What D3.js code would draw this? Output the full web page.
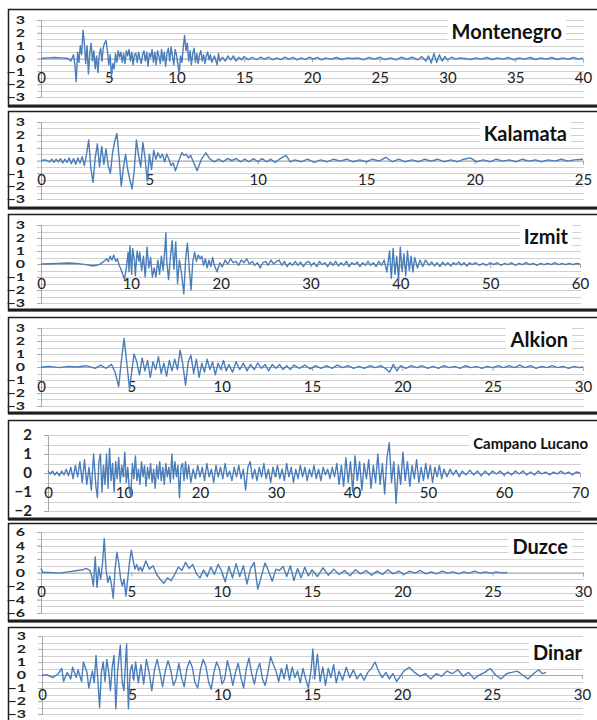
<!DOCTYPE html>
<html>
<head>
<meta charset="utf-8">
<script src="https://cdnjs.cloudflare.com/ajax/libs/d3/7.8.5/d3.min.js"></script>
<style>
  body { margin: 0; background: #fff; }
  text { font-family: Lato, "Open Sans", sans-serif; }
</style>
</head>
<body>
<div id="chart"></div>
<script>
// ---- data (time s, acceleration) ----
var names = ["Montenegro", "Kalamata", "Izmit", "Alkion", "Campano Lucano", "Duzce", "Dinar"];
var xMax  = [40, 25, 60, 30, 70, 30, 30];
var xStep = [5, 5, 10, 5, 10, 5, 5];
var yMax  = [3, 3, 3, 3, 2, 6, 3];
var yStep = [1, 1, 1, 1, 1, 2, 1];

var montenegro = [[0,0],[0.5,0.05],[1,0.08],[1.5,0.05],[2,0],[2.2,-0.2],[2.4,0.3],[2.5,-0.5],[2.6,-1.8],[2.7,0.5],[2.8,-0.3],[2.9,1.0],[3.0,0.3],[3.1,2.2],[3.2,1.2],[3.3,-0.4],[3.4,1.0],[3.5,-1.2],[3.6,0.4],[3.7,1.2],[3.8,-0.2],[3.9,0.6],[4.0,-0.8],[4.1,0.2],[4.2,-1.1],[4.3,0.3],[4.4,0.8],[4.5,-0.2],[4.6,0.9],[4.7,1.2],[4.8,1.4],[4.9,0.6],[5.0,-0.5],[5.1,0.3],[5.2,-1.4],[5.3,-0.4],[5.4,-0.8],[5.5,0.4],[5.6,-0.3],[5.7,0.6],[5.8,0.1],[5.9,0.5],[6.0,-0.3],[6.1,0.4],[6.2,-0.4],[6.3,0.6],[6.4,0.2],[6.5,0.7],[6.6,-0.2],[6.7,0.5],[6.8,-0.5],[6.9,0.3],[7.0,0.4],[7.1,-0.3],[7.2,0.5],[7.3,0],[7.4,-0.4],[7.5,0.3],[7.6,0.6],[7.7,-0.2],[7.8,0.5],[7.9,-0.6],[8.0,0.4],[8.1,0.1],[8.2,0.7],[8.3,-0.3],[8.4,0.5],[8.5,-0.5],[8.6,0.6],[8.7,0.2],[8.8,-0.4],[8.9,0.7],[9.0,-0.2],[9.1,0.5],[9.2,-0.6],[9.3,0.4],[9.4,0.8],[9.5,-0.2],[9.6,0.9],[9.7,0.2],[9.8,-0.5],[9.9,0.7],[10.0,0.3],[10.1,-0.4],[10.2,-1.2],[10.3,0.2],[10.4,-0.3],[10.5,0.9],[10.6,1.8],[10.7,0.6],[10.8,1.2],[10.9,-0.2],[11.0,0.6],[11.1,-0.5],[11.2,0.4],[11.3,0.8],[11.4,-0.3],[11.5,0.4],[11.6,-0.4],[11.7,0.3],[11.8,0.6],[11.9,-0.2],[12.0,0.3],[12.1,-0.4],[12.2,0.2],[12.3,0.5],[12.4,-0.1],[12.5,0.3],[12.6,-0.3],[12.8,0.2],[13.0,-0.5],[13.1,0.4],[13.2,-0.2],[13.4,0.1],[13.6,-0.2],[13.8,0.2],[14.0,-0.1],[14.2,0.2],[14.4,-0.2],[14.6,0.1],[14.8,-0.1],[15.0,0.15],[15.3,-0.1],[15.6,0.1],[15.9,-0.1],[16.2,0.1],[16.5,-0.05],[16.8,0.1],[17.1,-0.1],[17.4,0.05],[17.7,-0.08],[18.0,0.1],[18.3,-0.05],[18.6,0.08],[18.9,-0.1],[19.2,0.05],[19.5,-0.08],[19.8,0.1],[20.1,-0.05],[20.4,0.08],[20.7,-0.1],[21.0,0.05],[21.4,-0.05],[21.8,0.08],[22.2,-0.08],[22.6,0.05],[23.0,0],[23.4,0.05],[23.8,-0.1],[24.2,0.08],[24.6,-0.05],[25.0,0.1],[25.4,-0.08],[25.8,0.05],[26.2,-0.1],[26.6,0.1],[27.0,-0.05],[27.4,0.1],[27.8,-0.1],[28.1,0.15],[28.4,-0.2],[28.6,0.2],[28.8,-0.35],[29.0,0.4],[29.2,-0.3],[29.4,0.3],[29.6,-0.2],[29.8,0.15],[30.0,-0.1],[30.3,0.1],[30.6,-0.05],[30.9,0.05],[31.3,0],[31.7,-0.08],[32.1,0.05],[32.5,-0.05],[32.9,0.08],[33.3,-0.08],[33.7,0.05],[34.1,-0.05],[34.5,0.08],[34.9,-0.1],[35.3,0.05],[35.7,-0.05],[36.1,0.08],[36.5,-0.08],[36.9,0.05],[37.3,-0.05],[37.7,0.08],[38.1,-0.08],[38.5,0.05],[38.9,-0.05],[39.3,0.08],[39.7,-0.05],[40,0.05]];

var kalamata = [[0,0],[0.2,0.05],[0.4,-0.1],[0.5,0.1],[0.6,-0.15],[0.7,0.1],[0.8,-0.1],[0.9,0.15],[1.0,-0.2],[1.1,0.1],[1.2,-0.15],[1.3,0.2],[1.4,-0.25],[1.5,0.15],[1.6,-0.3],[1.7,0.2],[1.8,-0.2],[1.9,0.3],[2.0,-0.4],[2.1,0.5],[2.2,1.6],[2.3,-0.6],[2.4,-1.7],[2.5,0.2],[2.6,1.3],[2.7,-0.5],[2.8,1.1],[2.9,-0.3],[3.0,0.9],[3.1,-0.4],[3.2,-1.0],[3.3,0.6],[3.4,1.5],[3.5,2.1],[3.6,0.3],[3.7,-2.0],[3.8,-0.6],[3.9,0.5],[4.0,-0.7],[4.1,-1.5],[4.2,-2.2],[4.3,-0.8],[4.4,1.6],[4.5,0.4],[4.6,-0.5],[4.7,1.4],[4.8,0.2],[4.9,-1.6],[5.0,0.5],[5.1,-0.7],[5.2,0.8],[5.3,0.1],[5.4,0.6],[5.5,0.2],[5.6,0.5],[5.7,-0.1],[5.8,0.5],[5.9,0.1],[6.0,-0.4],[6.1,-0.2],[6.2,-0.8],[6.3,-0.3],[6.4,0.2],[6.5,0.6],[6.6,0.4],[6.7,0.5],[6.8,0.2],[6.9,0.4],[7.0,0],[7.2,-0.8],[7.4,0.1],[7.6,0.6],[7.8,0.1],[8.0,-0.1],[8.2,0.1],[8.4,-0.1],[8.6,0.15],[8.8,0],[9.0,0.15],[9.2,-0.1],[9.4,0.1],[9.6,-0.1],[9.8,0.15],[10.0,-0.1],[10.2,0.15],[10.4,-0.1],[10.6,0.1],[10.8,-0.15],[11.0,0.1],[11.3,0.4],[11.5,-0.1],[11.7,0.05],[12.0,-0.1],[12.3,0.1],[12.6,-0.15],[12.9,0.05],[13.2,-0.1],[13.5,0.1],[13.8,-0.05],[14.1,0.1],[14.4,-0.1],[14.7,0.05],[15.0,-0.1],[15.3,0.1],[15.6,-0.05],[15.9,0.25],[16.2,-0.1],[16.5,0.1],[16.8,-0.1],[17.1,0.05],[17.4,-0.1],[17.7,0.1],[18.0,-0.05],[18.3,0.1],[18.6,-0.1],[18.9,0.05],[19.2,-0.1],[19.5,0.1],[19.8,0.2],[20.1,-0.1],[20.4,0.05],[20.7,-0.1],[21.0,0.1],[21.3,-0.05],[21.6,0.05],[21.9,-0.1],[22.2,0.1],[22.5,-0.05],[22.8,0.05],[23.1,-0.1],[23.4,0.05],[23.7,-0.05],[24.0,0.1],[24.3,-0.05],[24.6,0.05],[25,0.1]];

var izmit = [[0,0],[1,0.02],[2,0.05],[3,0.08],[4,0.05],[5,-0.05],[5.8,-0.15],[6.5,-0.05],[7,0.2],[7.3,0.4],[7.5,0.2],[7.7,0.6],[7.9,0.3],[8.1,0.7],[8.3,0.2],[8.5,0.4],[8.7,-0.1],[8.9,-0.4],[9.1,-0.8],[9.3,-1.2],[9.5,-0.3],[9.7,0.9],[9.8,-0.6],[9.9,1.4],[10.1,-0.8],[10.2,1.2],[10.4,0.3],[10.5,-0.9],[10.7,1.0],[10.9,0.2],[11.0,0.9],[11.2,-0.5],[11.4,0.6],[11.6,-1.0],[11.8,1.3],[12.0,-0.3],[12.2,0.5],[12.4,-1.0],[12.6,-0.3],[12.8,-1.0],[13.0,0.3],[13.2,-0.8],[13.4,0.6],[13.6,-0.5],[13.8,1.2],[13.9,2.4],[14.0,0.2],[14.2,-1.2],[14.4,0.5],[14.6,1.8],[14.8,-0.4],[15.0,1.7],[15.2,-1.5],[15.4,0.3],[15.6,-0.5],[15.9,-2.3],[16.1,0.4],[16.3,1.6],[16.5,-0.3],[16.7,-2.0],[16.9,0.2],[17.1,0.9],[17.3,0.2],[17.5,0.7],[17.7,0.4],[17.9,0.6],[18.1,-0.1],[18.3,0.4],[18.5,-0.3],[18.7,0.3],[18.9,-0.2],[19.1,0.5],[19.3,-0.1],[19.6,-0.6],[19.9,0.1],[20.2,-0.2],[20.5,0.3],[20.8,0],[21.1,0.4],[21.4,0.1],[21.7,0.2],[22.0,-0.1],[22.3,0.3],[22.6,0.1],[22.9,0.4],[23.2,0],[23.5,0.2],[23.8,-0.1],[24.1,0.1],[24.4,-0.3],[24.7,0.1],[25.0,0.2],[25.3,-0.1],[25.6,0.3],[25.9,0],[26.2,0.2],[26.5,0.3],[26.8,-0.1],[27.1,0.2],[27.4,-0.2],[27.7,0.1],[28,-0.1],[28.3,0.2],[28.6,-0.1],[28.9,0.15],[29.2,-0.2],[29.5,0.1],[29.8,0.2],[30.1,-0.1],[30.4,0.1],[30.7,-0.2],[31.0,0.2],[31.3,-0.05],[31.6,0.1],[31.9,-0.2],[32.2,0.15],[32.5,-0.1],[32.8,0.2],[33.1,-0.15],[33.4,0.1],[33.7,-0.1],[34.0,0.2],[34.3,-0.2],[34.6,0.1],[34.9,-0.05],[35.2,0.15],[35.5,-0.2],[35.8,0.1],[36.1,-0.1],[36.4,0.2],[36.7,-0.1],[37.0,0.1],[37.3,-0.2],[37.6,0.2],[37.9,-0.1],[38.2,0.3],[38.5,-0.6],[38.8,1.0],[39.0,-1.1],[39.2,1.2],[39.4,-0.8],[39.6,0.6],[39.8,-1.2],[40.0,1.3],[40.2,-0.6],[40.4,0.8],[40.6,-0.9],[40.8,1.0],[41.0,-0.5],[41.2,0.6],[41.4,-0.6],[41.6,0.5],[41.9,-0.3],[42.2,0.3],[42.5,-0.2],[42.8,0.3],[43.2,-0.1],[43.5,0.15],[43.8,-0.15],[44.1,0.1],[44.4,-0.2],[44.7,0.15],[45.0,-0.1],[45.3,0.1],[45.6,-0.15],[45.9,0.1],[46.2,-0.05],[46.5,0.15],[46.8,-0.1],[47.1,0.1],[47.4,-0.15],[47.7,0.1],[48.0,-0.05],[48.4,0.1],[48.8,-0.1],[49.2,0.05],[49.6,-0.1],[50.0,0.1],[50.4,-0.05],[50.8,0.1],[51.2,-0.1],[51.6,0.05],[52.0,-0.05],[52.4,0.1],[52.8,-0.1],[53.2,0.05],[53.6,-0.05],[54.0,0.1],[54.4,-0.05],[54.8,0.05],[55.2,-0.1],[55.6,0.05],[56.0,-0.05],[56.4,0.05],[56.8,-0.05],[57.2,0.1],[57.6,-0.05],[58.0,0.05],[58.4,-0.05],[58.8,0.05],[59.2,-0.05],[59.6,0.05],[60,0]];

var alkion = [[0,0],[0.5,0.05],[1,-0.05],[1.5,0.05],[2,0],[2.5,0.1],[3,-0.1],[3.3,0.15],[3.6,-0.1],[3.9,0.2],[4.1,-0.4],[4.3,-1.5],[4.45,0.5],[4.6,2.2],[4.75,0.3],[4.9,-1.7],[5.0,-0.6],[5.15,1.0],[5.3,0.4],[5.45,-0.6],[5.6,0.7],[5.75,-0.3],[5.9,0.5],[6.05,-0.8],[6.2,0.4],[6.35,-0.2],[6.5,0.8],[6.65,-0.5],[6.8,0.3],[6.95,-0.7],[7.1,0.5],[7.25,-0.3],[7.4,0.6],[7.55,-0.2],[7.7,1.3],[7.85,0.2],[8.0,-1.4],[8.15,0.4],[8.3,0.9],[8.45,-0.5],[8.6,0.6],[8.75,-0.8],[8.9,0.3],[9.05,-0.4],[9.2,0.6],[9.35,-0.2],[9.5,0.4],[9.65,-0.6],[9.8,0.3],[9.95,-0.2],[10.1,0.5],[10.25,-0.3],[10.4,0.2],[10.6,-0.4],[10.8,0.4],[11.0,-0.2],[11.2,0.3],[11.4,-0.3],[11.6,0.2],[11.8,-0.2],[12.0,0.3],[12.2,-0.1],[12.4,0.2],[12.6,-0.3],[12.8,0.2],[13.0,-0.1],[13.2,0.2],[13.4,-0.2],[13.6,0.1],[13.8,-0.2],[14.0,0.15],[14.3,-0.1],[14.6,0.15],[14.9,-0.15],[15.2,0.1],[15.5,-0.1],[15.8,0.1],[16.1,-0.1],[16.4,0.15],[16.7,-0.05],[17.0,0.1],[17.3,-0.1],[17.6,0.05],[17.9,-0.1],[18.2,0.1],[18.5,-0.05],[18.8,0.1],[19.1,-0.15],[19.3,-0.4],[19.5,0.2],[19.7,-0.3],[19.9,0.1],[20.2,-0.1],[20.5,0.1],[20.8,-0.05],[21.1,0.1],[21.4,-0.1],[21.7,0.05],[22.0,-0.1],[22.3,0.1],[22.6,-0.05],[22.9,0.05],[23.2,-0.1],[23.5,0.1],[23.8,-0.05],[24.1,0.05],[24.4,-0.1],[24.7,0.05],[25.0,-0.05],[25.3,0.1],[25.6,-0.05],[25.9,0.1],[26.2,-0.05],[26.5,0.15],[26.8,-0.05],[27.1,0.1],[27.4,-0.1],[27.7,0.05],[28.0,-0.05],[28.3,0.1],[28.6,-0.05],[28.9,0.05],[29.2,-0.1],[29.5,0.05],[29.8,-0.05],[30,0]];

var campanoLucano = [[0,0.1],[0.3,-0.05],[0.6,0.1],[0.9,-0.1],[1.2,0.05],[1.5,-0.15],[1.8,0.1],[2.1,-0.1],[2.4,0.2],[2.7,-0.15],[3.0,0.3],[3.3,-0.3],[3.6,0.4],[3.9,-0.2],[4.2,0.6],[4.5,-0.5],[4.8,0.7],[5.1,-0.6],[5.4,0.3],[5.7,-0.9],[6.0,1.0],[6.3,-0.7],[6.5,-1.3],[6.7,0.6],[6.9,1.0],[7.1,-1.0],[7.3,0.4],[7.5,-0.6],[7.7,1.0],[7.9,-0.8],[8.1,1.3],[8.3,-0.4],[8.5,0.5],[8.7,-1.0],[8.9,0.6],[9.1,-0.3],[9.3,0.8],[9.5,-0.5],[9.7,0.4],[9.9,-0.2],[10.1,1.1],[10.3,-0.5],[10.5,0.3],[10.7,-0.9],[10.9,-1.2],[11.1,0.5],[11.3,-0.3],[11.5,0.9],[11.7,-0.4],[11.9,0.2],[12.1,-0.6],[12.3,0.6],[12.5,-0.2],[12.7,0.4],[12.9,-0.7],[13.1,0.3],[13.3,-0.3],[13.5,0.5],[13.7,-0.5],[13.9,0.2],[14.1,-0.8],[14.3,0.4],[14.5,-0.3],[14.7,0.6],[14.9,-0.4],[15.1,0.3],[15.3,-0.6],[15.5,0.5],[15.7,-0.2],[15.9,0.3],[16.1,-0.5],[16.3,1.0],[16.5,-0.3],[16.7,0.6],[16.9,-0.2],[17.1,0.4],[17.3,-1.3],[17.5,0.3],[17.7,0.5],[17.9,-0.4],[18.1,0.6],[18.3,-0.3],[18.5,0.4],[18.8,-0.5],[19.1,0.2],[19.4,-0.3],[19.7,0.4],[20.0,-0.2],[20.3,0.3],[20.6,-0.4],[20.9,0.5],[21.2,-0.2],[21.5,0.2],[21.8,-0.5],[22.1,0.4],[22.4,-0.2],[22.7,0.3],[23.0,-0.3],[23.3,0.5],[23.6,-0.2],[23.9,0.1],[24.2,-0.4],[24.5,0.3],[24.8,-0.2],[25.1,0.4],[25.4,-0.3],[25.7,0.2],[26.0,-0.9],[26.3,0.3],[26.6,0.6],[26.9,-0.3],[27.2,0.2],[27.5,-0.4],[27.8,0.3],[28.1,-0.2],[28.4,0.5],[28.7,-0.3],[29.0,0.2],[29.3,-0.5],[29.6,0.3],[29.9,-0.2],[30.2,0.4],[30.5,-0.3],[30.8,0.2],[31.1,-0.4],[31.4,0.5],[31.7,-0.2],[32.0,0.3],[32.3,-0.5],[32.6,0.2],[32.9,-0.3],[33.2,0.4],[33.5,-0.2],[33.8,0.3],[34.1,-0.4],[34.4,0.2],[34.7,-0.2],[35.0,0.4],[35.3,-0.3],[35.6,0.2],[35.9,-0.4],[36.2,0.3],[36.5,-0.1],[36.8,0.2],[37.1,-0.3],[37.4,0.3],[37.7,-0.2],[38.0,0.5],[38.3,-0.6],[38.6,0.4],[38.9,-0.7],[39.2,0.8],[39.5,-0.5],[39.8,0.6],[40.1,-1.0],[40.4,0.9],[40.7,-0.4],[41.0,0.6],[41.3,-0.9],[41.6,0.5],[41.9,-0.3],[42.2,0.7],[42.5,-0.8],[42.8,0.4],[43.1,-0.5],[43.4,1.0],[43.7,-0.6],[44.0,0.5],[44.3,-1.1],[44.6,0.8],[44.9,1.6],[45.2,-0.5],[45.5,0.6],[45.8,-1.6],[46.1,0.4],[46.4,-0.6],[46.7,1.1],[47.0,-0.4],[47.3,0.6],[47.6,-0.7],[47.9,0.4],[48.2,-0.3],[48.5,0.7],[48.8,-0.5],[49.1,0.3],[49.4,-0.4],[49.7,0.5],[50.0,-0.3],[50.3,0.4],[50.6,-0.5],[50.9,0.3],[51.2,-0.2],[51.5,0.4],[51.8,-0.3],[52.1,0.2],[52.5,-0.2],[52.9,0.2],[53.3,-0.1],[53.7,0.15],[54.1,-0.2],[54.5,0.1],[55,-0.1],[55.5,0.15],[56,-0.1],[56.5,0.1],[57,-0.15],[57.5,0.1],[58,-0.1],[58.5,0.1],[59,-0.05],[59.5,0.1],[60,-0.1],[60.5,0.05],[61,-0.1],[61.5,0.1],[62,-0.05],[62.5,0.1],[63,-0.1],[63.5,0.05],[64,-0.1],[64.5,0.1],[65,-0.05],[65.5,0.05],[66,-0.1],[66.5,0.05],[67,-0.05],[67.5,0.1],[68,-0.05],[68.5,0.05],[69,-0.1],[69.5,0.05],[70,0]];

var duzce = [[0,0.6],[0.1,0],[0.5,0],[1,-0.1],[1.5,0.1],[2,0.3],[2.3,0.4],[2.5,0.6],[2.7,0.3],[2.8,-0.4],[2.9,-2.0],[3.0,2.3],[3.1,-2.2],[3.2,0.8],[3.3,-1.0],[3.4,1.2],[3.5,5.0],[3.6,0.5],[3.7,-1.5],[3.8,-0.5],[3.9,-1.8],[4.0,-3.8],[4.1,0.5],[4.2,3.0],[4.3,1.5],[4.4,-0.8],[4.5,-2.0],[4.6,-1.0],[4.7,-3.5],[4.8,-1.0],[4.9,1.5],[5.0,3.3],[5.1,1.8],[5.2,0.5],[5.3,1.2],[5.4,0.3],[5.5,0.8],[5.6,0.2],[5.8,1.7],[6.0,0.5],[6.2,1.0],[6.4,-0.3],[6.6,-1.0],[6.8,-1.6],[7.0,-0.8],[7.2,-1.2],[7.4,-0.3],[7.6,0.8],[7.8,0.3],[8.0,1.5],[8.2,0.6],[8.4,1.2],[8.6,-0.2],[8.8,-0.8],[9.0,0.4],[9.2,-0.6],[9.4,0.8],[9.6,-0.3],[9.8,1.2],[10.0,0.2],[10.2,-1.4],[10.4,0.9],[10.6,-0.8],[10.8,1.3],[11.0,-0.6],[11.2,1.0],[11.4,-1.7],[11.6,0.6],[11.8,1.5],[12.0,-2.5],[12.2,-0.5],[12.4,1.4],[12.6,0.2],[12.8,-1.3],[13.0,0.5],[13.2,0.3],[13.4,0.9],[13.6,-0.6],[13.8,1.0],[14.0,-1.2],[14.2,0.6],[14.4,-0.8],[14.6,0.8],[14.8,-0.5],[15.0,0.4],[15.3,-0.6],[15.6,0.7],[15.9,-0.4],[16.2,0.5],[16.5,-0.3],[16.8,0.3],[17.1,-0.5],[17.4,0.4],[17.7,-0.2],[18.0,0.3],[18.3,-0.4],[18.6,0.2],[18.9,-0.3],[19.2,0.4],[19.5,-0.2],[19.8,0.2],[20.1,-0.3],[20.4,0.2],[20.7,-0.1],[21.0,0.3],[21.3,-0.2],[21.6,0.1],[21.9,-0.2],[22.2,0.2],[22.5,-0.1],[22.8,0.1],[23.1,-0.2],[23.4,0.1],[23.7,-0.1],[24.0,0.2],[24.3,-0.1],[24.6,0.1],[24.9,-0.1],[25.2,0.1],[25.5,-0.05],[25.8,0]];

var dinar = [[0,0],[0.3,0],[0.6,-0.2],[0.9,0.1],[1.1,0.5],[1.2,-0.5],[1.4,0.2],[1.6,-0.3],[1.7,0.6],[1.9,-0.2],[2.0,0.4],[2.2,-0.5],[2.3,1.0],[2.5,0.2],[2.6,-1.0],[2.8,0.3],[2.9,-0.6],[3.0,1.5],[3.1,-0.3],[3.2,-2.5],[3.3,0.2],[3.4,1.0],[3.5,-0.5],[3.6,1.2],[3.7,0.3],[3.8,-1.2],[3.9,0.6],[4.0,1.5],[4.1,-2.6],[4.2,0.3],[4.35,2.3],[4.45,-0.5],[4.55,-1.2],[4.7,2.4],[4.8,-2.6],[4.9,0.3],[5.0,0.8],[5.1,-0.4],[5.2,1.0],[5.35,-0.6],[5.5,0.8],[5.65,-0.7],[5.8,1.2],[5.95,0.2],[6.1,-1.2],[6.25,0.4],[6.4,1.2],[6.55,0.2],[6.7,-0.9],[6.85,0.3],[7.0,1.1],[7.15,0.4],[7.3,-0.8],[7.45,-0.3],[7.6,0.9],[7.75,-0.2],[7.9,-0.9],[8.05,0.5],[8.2,1.1],[8.35,0.6],[8.5,-0.6],[8.65,-1.0],[8.8,0.4],[8.95,1.2],[9.1,0.7],[9.25,-0.5],[9.4,-1.1],[9.55,0.2],[9.7,1.0],[9.85,0.5],[10.0,-0.7],[10.15,-0.3],[10.3,1.1],[10.45,0.3],[10.6,-0.8],[10.75,0.2],[10.9,0.9],[11.05,-0.2],[11.2,-1.0],[11.35,0.5],[11.5,1.3],[11.65,0.1],[11.8,-0.7],[11.95,0.4],[12.1,0.9],[12.25,-0.3],[12.4,-0.8],[12.55,0.2],[12.7,1.4],[12.85,0.8],[13.0,0.3],[13.15,-0.5],[13.3,0.5],[13.45,-0.3],[13.6,0.8],[13.75,-0.4],[13.9,0.6],[14.05,-0.2],[14.2,0.3],[14.35,-0.6],[14.5,0.5],[14.65,-0.3],[14.8,-1.0],[14.95,0.4],[15.05,2.0],[15.15,-0.3],[15.3,1.6],[15.45,-0.5],[15.6,0.6],[15.75,-0.8],[15.9,0.5],[16.05,-0.2],[16.2,0.8],[16.35,-0.6],[16.5,0.3],[16.7,-0.4],[16.9,0.6],[17.1,-0.2],[17.3,0.4],[17.5,-0.3],[17.7,0.1],[17.9,-0.4],[18.1,0.2],[18.3,0.5],[18.5,1.0],[18.7,0.3],[18.9,-0.2],[19.1,0.2],[19.3,-0.3],[19.5,0.1],[19.7,-0.5],[19.9,-0.1],[20.1,0.3],[20.4,0.6],[20.7,0.2],[21.0,-0.1],[21.3,0.1],[21.6,-0.3],[21.9,0.1],[22.2,-0.1],[22.5,0.3],[22.8,0.1],[23.1,0.4],[23.4,-0.1],[23.7,0.2],[24.0,-0.3],[24.3,0],[24.6,0.2],[24.9,0.5],[25.2,0],[25.5,-0.3],[25.8,0.1],[26.1,0.2],[26.4,0.3],[26.7,0],[27.0,-0.3],[27.3,0.1],[27.6,0.4],[27.8,0.1],[28.0,0.2]];

var series = [montenegro, kalamata, izmit, alkion, campanoLucano, duzce, dinar];

// ---- layout (pixels) ----
var width = 597, height = 720;
var boxTop     = [9, 111, 214, 317, 420, 523, 627];
var boxBottom  = [106, 208, 310, 413, 519, 621, 740];
var plotTop    = [20, 122, 225, 328, 435, 532, 636];
var plotBottom = [97, 199, 303, 406, 511, 613, 714];
var plotLeft   = [41, 41, 41, 41, 48, 41, 42];
var plotRight  = [583, 583, 580, 583, 580, 583, 582];
var titleEnd   = [562, 567, 568, 568, 588, 568, 582];
var titleMid   = [32, 134, 237, 340, 444, 547, 653];

var svg = d3.select("#chart")
  .append("svg")
    .attr("width", width)
    .attr("height", height);

names.forEach(function (name, i) {
  var g = svg.append("g");

  var x = d3.scaleLinear().domain([0, xMax[i]]).range([plotLeft[i], plotRight[i]]);
  var y = d3.scaleLinear().domain([-yMax[i], yMax[i]]).range([plotBottom[i], plotTop[i]]);

  // frame
  g.append("rect")
    .attr("x", 8.5).attr("y", boxTop[i] + 0.5)
    .attr("width", width).attr("height", boxBottom[i] - boxTop[i])
    .attr("fill", "#fff")
    .attr("stroke", "#1e1e1e")
    .attr("stroke-width", 1.5);
  g.append("line")
    .attr("x1", 8).attr("x2", width)
    .attr("y1", boxBottom[i]).attr("y2", boxBottom[i])
    .attr("stroke", "#1e1e1e")
    .attr("stroke-width", 3);

  // horizontal gridlines (major + minor)
  var grid = d3.range(-yMax[i], yMax[i] + 1e-9, yStep[i] / 2);
  g.selectAll(".grid")
    .data(grid)
    .enter()
    .append("line")
      .attr("x1", plotLeft[i] - 4)
      .attr("x2", plotRight[i] + 1)
      .attr("y1", function (d) { return Math.round(y(d)) + 0.5; })
      .attr("y2", function (d) { return Math.round(y(d)) + 0.5; })
      .attr("stroke", "#d0d0d0")
      .attr("stroke-width", 1);

  // y axis
  var yAxis = d3.axisLeft(y)
    .tickValues(d3.range(-yMax[i], yMax[i] + 1e-9, yStep[i]))
    .tickFormat(d3.format("d"))
    .tickSize(4)
    .tickPadding(0);
  var ya = g.append("g")
    .attr("transform", "translate(" + plotLeft[i] + ",0)")
    .call(yAxis);
  ya.select(".domain").attr("stroke", "#a8a8a8");
  ya.selectAll(".tick line").attr("stroke", "#a8a8a8");
  // labels squeezed vertically like the source image (not on the roomier -2..2 panel)
  var squeeze = yMax[i] == 2 ? 1 : 0.72;
  ya.selectAll(".tick text")
    .attr("x", null)
    .attr("transform", "translate(-16,0) scale(1," + squeeze + ")")
    .attr("fill", "#222")
    .style("font-size", yMax[i] == 2 ? "15px" : "16px")
    .style("font-weight", "bold")
    .style("font-family", "Lato, sans-serif");

  // x axis sits on zero
  var xAxis = d3.axisBottom(x)
    .tickValues(d3.range(0, xMax[i] + 1e-9, xStep[i]))
    .tickSize(4)
    .tickPadding(10);
  var xa = g.append("g")
    .attr("transform", "translate(0," + y(0) + ")")
    .call(xAxis);
  xa.select(".domain").attr("stroke", "#a8a8a8");
  xa.selectAll(".tick line").attr("stroke", "#a8a8a8");
  xa.selectAll(".tick text")
    .attr("fill", "#222")
    .style("font-size", "15px")
    .style("font-family", "Lato, sans-serif");

  // trace
  var line = d3.line()
    .x(function (d) { return x(d[0]); })
    .y(function (d) { return y(d[1]); });
  g.append("path")
    .datum(series[i])
    .attr("d", line)
    .attr("fill", "none")
    .attr("stroke", "#4a7ebb")
    .attr("stroke-width", 1.4)
    .attr("stroke-linejoin", "round");

  // title with white box
  var t = g.append("text")
    .attr("x", titleEnd[i])
    .attr("y", titleMid[i])
    .attr("dy", "0.36em")
    .attr("text-anchor", "end")
    .attr("fill", "#111")
    .style("font-family", "Lato, sans-serif")
    .style("font-weight", "bold")
    .style("font-size", i == 4 ? "15px" : "20px")
    .text(name);
  var bb = t.node().getBBox();
  g.insert("rect", function () { return t.node(); })
    .attr("x", bb.x - 4).attr("y", bb.y - 1)
    .attr("width", bb.width + 8).attr("height", bb.height + 2)
    .attr("fill", "#fff");
});
</script>
</body>
</html>
